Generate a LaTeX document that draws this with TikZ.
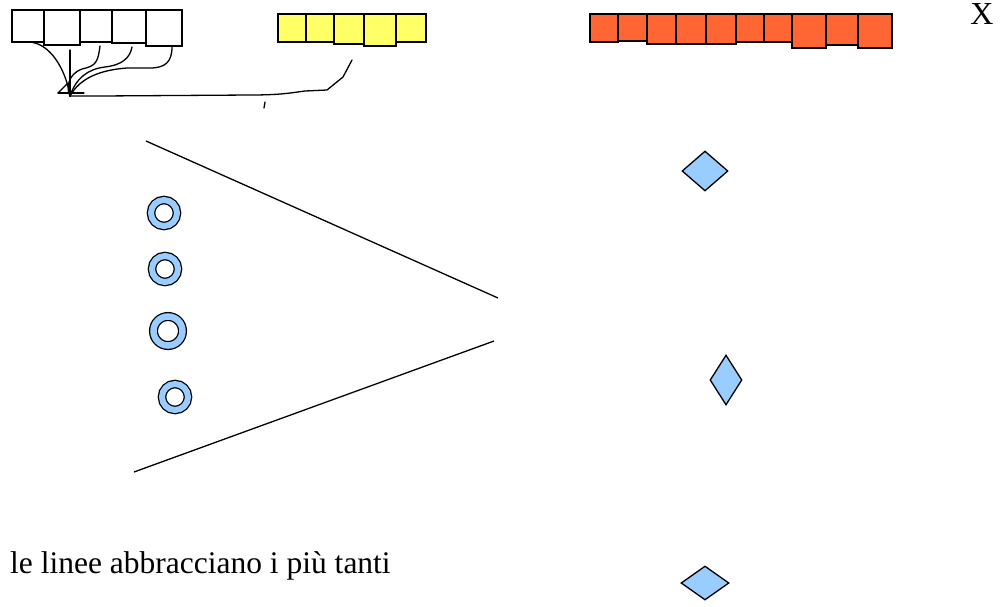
\documentclass[tikz,border=0pt]{standalone}
\usepackage{fontspec}
\setmainfont{Liberation Serif}
\usetikzlibrary{shapes.geometric}
\definecolor{boxyellow}{HTML}{FFFF66}
\definecolor{boxorange}{HTML}{FF6633}
\definecolor{ringblue}{HTML}{99CCFF}

\begin{document}
\begin{tikzpicture}[x=1pt, y=-1pt,
  wbox/.style={draw, line width=1.3pt, anchor=north west, inner sep=0pt, outer sep=0pt, fill=white},
  ybox/.style={wbox, fill=boxyellow},
  obox/.style={wbox, line width=1.1pt, fill=boxorange},
  ring/.style={circle, draw, line width=1.3pt, double=ringblue, double distance=6pt, inner sep=0pt, minimum size=26pt},
  gem/.style={diamond, draw, line width=1.3pt, fill=ringblue, inner sep=0pt},
  hand/.style={line width=1.3pt, line cap=round, line join=round}]

  \useasboundingbox (0,0) rectangle (1001,606);

  % White row
  \node[wbox, minimum width=32pt, minimum height=32pt] (W1) at (12,10) {};
  \node[wbox, minimum width=36pt, minimum height=35pt] (W2) at (W1.north east) {};
  \node[wbox, minimum width=32pt, minimum height=32pt] (W3) at (W2.north east) {};
  \node[wbox, minimum width=34pt, minimum height=33pt] (W4) at (W3.north east) {};
  \node[wbox, minimum width=36pt, minimum height=36pt] (W5) at (W4.north east) {};

  % Yellow row
  \node[ybox, minimum width=28pt, minimum height=28pt] (Y1) at (278,14) {};
  \node[ybox, minimum width=28pt, minimum height=28pt] (Y2) at (Y1.north east) {};
  \node[ybox, minimum width=30pt, minimum height=30pt] (Y3) at (Y2.north east) {};
  \node[ybox, minimum width=32pt, minimum height=32pt] (Y4) at (Y3.north east) {};
  \node[ybox, minimum width=30pt, minimum height=28pt] (Y5) at (Y4.north east) {};

  % Orange row
  \node[obox, minimum width=28pt, minimum height=28pt] (O1) at (590,14) {};
  \node[obox, minimum width=29pt, minimum height=27pt] (O2) at (O1.north east) {};
  \node[obox, minimum width=29pt, minimum height=30pt] (O3) at (O2.north east) {};
  \node[obox, minimum width=30pt, minimum height=30pt] (O4) at (O3.north east) {};
  \node[obox, minimum width=30pt, minimum height=30pt] (O5) at (O4.north east) {};
  \node[obox, minimum width=28pt, minimum height=28pt] (O6) at (O5.north east) {};
  \node[obox, minimum width=28pt, minimum height=28pt] (O7) at (O6.north east) {};
  \node[obox, minimum width=34pt, minimum height=34pt] (O8) at (O7.north east) {};
  \node[obox, minimum width=32pt, minimum height=31pt] (O9) at (O8.north east) {};
  \node[obox, minimum width=34pt, minimum height=34pt] (O10) at (O9.north east) {};

  \node[anchor=base, inner sep=0pt, font=\fontsize{32}{36}\selectfont] (Xmark) at (982,24) {X};

  % Hand-drawn links
  \coordinate (hub) at (70,96);
  \coordinate (W2foot) at (70,50);
  \coordinate (W3foot) at (100,46);
  \coordinate (W4foot) at (132,47);
  \coordinate (W5foot) at (172,47);
  \coordinate (Y3foot) at (352,60);
  \draw[hand] (W1.south) .. controls (50,42) and (66,70) .. (hub);
  \draw[hand] (W2foot) -- (hub);
  \draw[hand] (W3foot) .. controls (98,62) and (96,66) .. (82,69) .. controls (68,74) and (66,88) .. (hub);
  \draw[hand] (W4foot) .. controls (130,58) and (122,65) .. (105,67) .. controls (88,69) and (76,78) .. (hub);
  \draw[hand] (W5foot) .. controls (172,62) and (165,68) .. (150,68) -- (127,68) .. controls (100,70) and (80,78) .. (hub);
  \draw[hand] (58,93) -- (84,93);
  \draw[hand] (58,93) -- (68,83);
  \draw[hand] (Y3foot) -- (343,77) -- (327,90) -- (305,91) .. controls (290,93) and (280,95) .. (250,95) -- (100,96) .. controls (85,96) and (75,96) .. (hub);
  \draw[hand] (265,102) -- (264,108);

  % Wedge
  \draw[line width=1.3pt] (146,141) -- (498,298);
  \draw[line width=1.3pt] (134,472) -- (494,341);

  % Rings
  \node[ring] (R1) at (164,213) {};
  \node[ring] (R2) at (165,269) {};
  \node[ring, minimum size=29pt, double distance=6.5pt] (R3) at (168,331) {};
  \node[ring] (R4) at (175,397) {};

  % Diamonds
  \node[gem, minimum width=46pt, minimum height=40pt] (D1) at (705,171) {};
  \node[gem, minimum width=32pt, minimum height=50pt] (D2) at (726,380) {};
  \node[gem, minimum width=48pt, minimum height=34pt] (D3) at (705,583) {};

  \node[anchor=base west, inner sep=0pt, font=\fontsize{31.5}{36}\selectfont] (note) at (10,573) {le linee abbracciano i più tanti};

\end{tikzpicture}
\end{document}
